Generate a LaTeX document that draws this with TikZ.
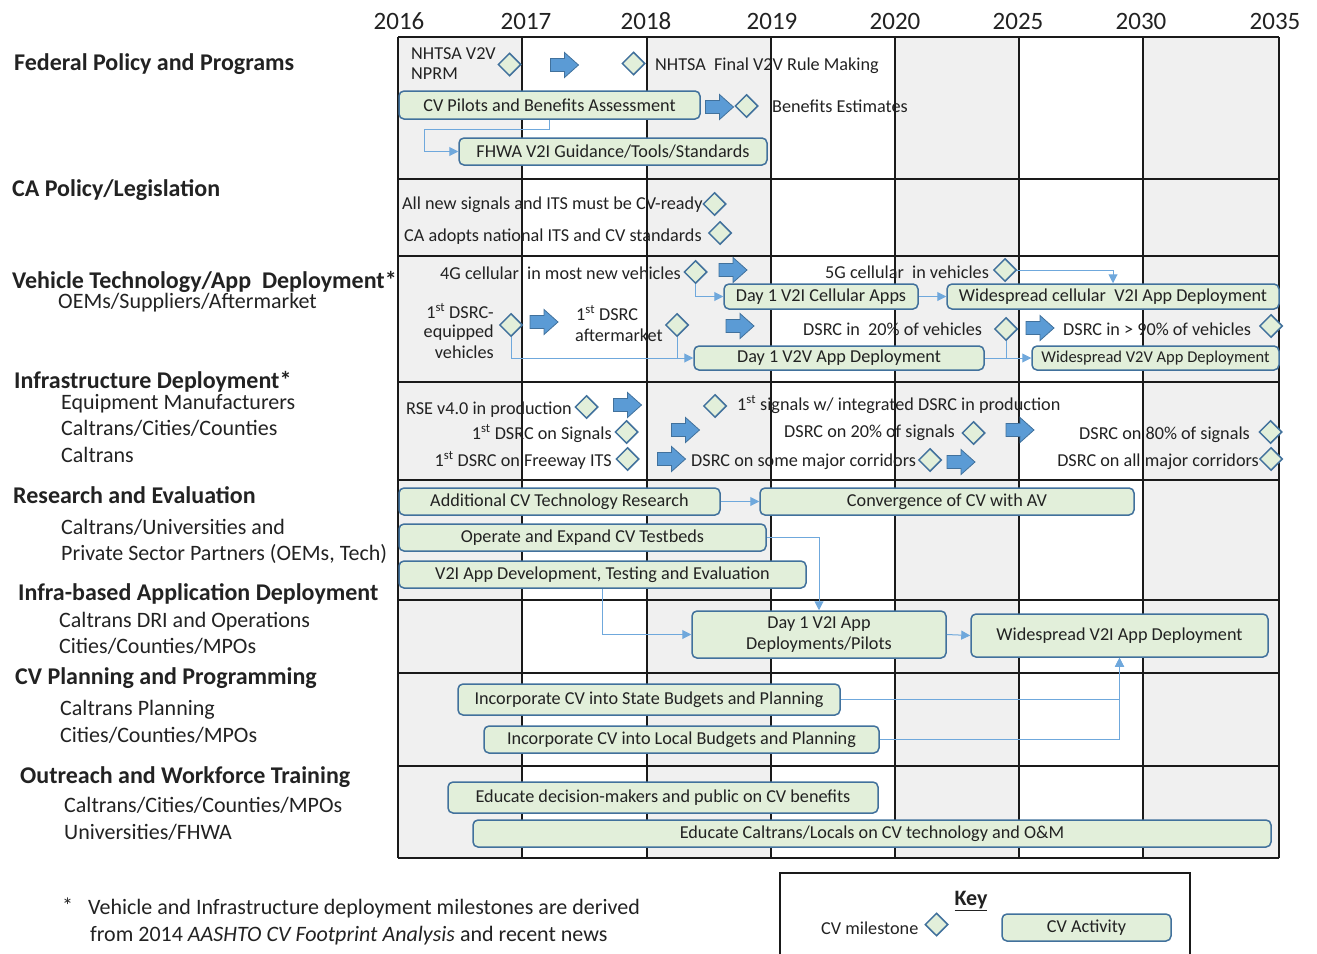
\documentclass[tikz,border=0pt]{standalone}
\usepackage{fontspec}
\setmainfont{Carlito}
\usetikzlibrary{shapes.geometric,arrows.meta,calc}
\definecolor{actfill}{HTML}{E2EFDA}
\definecolor{actdraw}{HTML}{41719C}
\definecolor{arrfill}{HTML}{5B9BD5}
\definecolor{connc}{HTML}{6FA8DC}
\definecolor{colshade}{HTML}{F0F0F0}
\definecolor{gridc}{HTML}{1A1A1A}
\definecolor{txt}{HTML}{222222}
\newcommand\actbox[6]{\node[act, minimum width={#4-#2}, minimum height={#5-#3}] (#1) at ({(#2+#4)/2},{(#3+#5)/2}) {#6};}
\begin{document}
\begin{tikzpicture}[x=1pt,y=-1pt,
 act/.style={draw=actdraw, fill=actfill, rounded corners=5pt, line width=1.5pt, inner sep=0pt, font=\fontsize{18.2}{21.5}\selectfont, text=txt, align=center},
 ms/.style={diamond, draw=actdraw, fill=actfill, line width=1.5pt, minimum width=23pt, minimum height=23pt, inner sep=0pt},
 lbl/.style={inner sep=0pt, font=\fontsize{18.2}{21.5}\selectfont, text=txt},
 head/.style={inner sep=0pt, font=\fontsize{24}{28}\selectfont\bfseries, text=txt, anchor=base west},
 sub/.style={inner sep=0pt, font=\fontsize{22}{26}\selectfont, text=txt, anchor=base west},
 yearlbl/.style={inner sep=0pt, font=\fontsize{25}{29}\selectfont, text=txt, anchor=base},
 foot/.style={inner sep=0pt, font=\fontsize{22}{26}\selectfont, text=txt, anchor=base west},
 conn/.style={draw=connc, line width=1pt, -{Triangle[length=9pt,width=9pt]}},
 joinline/.style={draw=connc, line width=1pt},
 gridline/.style={draw=gridc, line width=1.6pt},
 blockarrow/.pic={\draw[fill=arrfill, draw=actdraw, line width=0.8pt] (-14,-6.5) -- (0,-6.5) -- (0,-12.5) -- (14,0) -- (0,12.5) -- (0,6.5) -- (-14,6.5) -- cycle;}
]
\useasboundingbox (0,0) rectangle (1317,953);
% shading
\fill[colshade] (398,37) rectangle (522,858);
\fill[colshade] (647,37) rectangle (771,858);
\fill[colshade] (895,37) rectangle (1019,858);
\fill[colshade] (1143,37) rectangle (1279,858);
\foreach \x in {398,522,647,771,895,1019,1143,1279} \draw[gridline] (\x,37) -- (\x,858);
\foreach \y in {37,179,256,382,480,600,673,766,858} \draw[gridline] (398,\y) -- (1279,\y);
% years
\node[yearlbl] (y2016) at (399,29) {2016};
\node[yearlbl] (y2017) at (526,29) {2017};
\node[yearlbl] (y2018) at (646,29) {2018};
\node[yearlbl] (y2019) at (772,29) {2019};
\node[yearlbl] (y2020) at (895,29) {2020};
\node[yearlbl] (y2025) at (1018,29) {2025};
\node[yearlbl] (y2030) at (1141,29) {2030};
\node[yearlbl] (y2035) at (1275,29) {2035};
% left labels
\node[head] (h1) at (14,70) {Federal Policy and Programs};
\node[head] (h2) at (12,196) {CA Policy/Legislation};
\node[head] (h3) at (12,288) {Vehicle Technology/App\ \ Deployment*};
\node[sub] (s3a) at (58,308) {OEMs/Suppliers/Aftermarket};
\node[head] (h4) at (14,388) {Infrastructure Deployment*};
\node[sub] (s4a) at (61,409) {Equipment Manufacturers};
\node[sub] (s4b) at (61,435) {Caltrans/Cities/Counties};
\node[sub] (s4c) at (61,462) {Caltrans};
\node[head] (h5) at (13,503) {Research and Evaluation};
\node[sub] (s5a) at (61,534) {Caltrans/Universities and};
\node[sub] (s5b) at (61,560) {Private Sector Partners (OEMs, Tech)};
\node[head] (h6) at (18,600) {Infra-based Application Deployment};
\node[sub] (s6a) at (59,627) {Caltrans DRI and Operations};
\node[sub] (s6b) at (59,653) {Cities/Counties/MPOs};
\node[head] (h7) at (15,684) {CV Planning and Programming};
\node[sub] (s7a) at (60,715) {Caltrans Planning};
\node[sub] (s7b) at (60,742) {Cities/Counties/MPOs};
\node[head] (h8) at (20,783) {Outreach and Workforce Training};
\node[sub] (s8a) at (64,812) {Caltrans/Cities/Counties/MPOs};
\node[sub] (s8b) at (64,839) {Universities/FHWA};
% Federal row
\node[lbl, anchor=base west] (m1t) at (411,59) {NHTSA V2V};
\node[lbl, anchor=base west] (m1t2) at (411,79) {NPRM};
\node[ms] (m1) at (509.5,64.5) {};
\pic at (564.5,65) {blockarrow};
\node[ms] (m2) at (633.5,63.5) {};
\node[lbl, anchor=base west] (m2t) at (655,70) {NHTSA\ \ Final V2V Rule Making};
\actbox{cvp}{399}{91}{700}{119}{CV Pilots and Benefits Assessment}
\pic at (719.5,107) {blockarrow};
\node[ms] (m3) at (746.5,106) {};
\node[lbl, anchor=base west] (m3t) at (772,112) {Benefits Estimates};
\actbox{fhwa}{459}{138}{767}{165}{FHWA V2I Guidance/Tools/Standards}
\draw[conn] (cvp.south) |- (424,129) |- (fhwa.west);
% CA row
\node[lbl, anchor=base west] (c1t) at (402,209) {All new signals and ITS must be CV-ready};
\node[ms] (c1) at (714.5,204) {};
\node[lbl, anchor=base west] (c2t) at (404,241) {CA adopts national ITS and CV standards};
\node[ms] (c2) at (720,233) {};
% Vehicle row
\node[lbl, anchor=base east] (v1t) at (681,279) {4G cellular\ \ in most new vehicles};
\node[ms] (v1) at (695.5,272) {};
\pic at (733,270) {blockarrow};
\node[lbl, anchor=base west] (v2t) at (825,278) {5G cellular\ \ in vehicles};
\node[ms] (v2) at (1005,270) {};
\actbox{d1cell}{724}{284}{918}{309}{Day 1 V2I Cellular Apps}
\actbox{wcell}{947}{284}{1279}{309}{Widespread cellular\ \ V2I App Deployment}
\draw[conn] (v1.south) |- (d1cell.west);
\draw[conn] (d1cell.east) -- (wcell.west);
\draw[conn] (v2.east) -| (wcell.north);
\node[lbl, anchor=base east] (v3a) at (494,318) {1\textsuperscript{st} DSRC-};
\node[lbl, anchor=base east] (v3b) at (494,337) {equipped};
\node[lbl, anchor=base east] (v3c) at (494,358) {vehicles};
\node[ms] (v3) at (511,325) {};
\pic at (544,322) {blockarrow};
\node[lbl, anchor=base west] (v4a) at (576,320) {1\textsuperscript{st} DSRC};
\node[lbl, anchor=base west] (v4b) at (575,341) {aftermarket};
\node[ms] (v4) at (677,325) {};
\pic at (740,326) {blockarrow};
\node[lbl, anchor=base west] (v5t) at (803,335) {DSRC in\ \ 20\% of vehicles};
\node[ms] (v5) at (1006,329) {};
\pic at (1040,328) {blockarrow};
\node[lbl, anchor=base west] (v6t) at (1063,335) {DSRC in > 90\% of vehicles};
\node[ms] (v6) at (1271,326) {};
\actbox{d1v2v}{694}{346}{984}{370}{Day 1 V2V App Deployment}
\actbox{wv2v}{1032}{346}{1279}{370}{\fontsize{16.5}{20}\selectfont Widespread V2V App Deployment}
\draw[conn] (v3.south) |- (d1v2v.west);
\draw[joinline] (v4.south) -- (v4.south |- d1v2v.west);
\draw[conn] (d1v2v.east) -- (wv2v.west);
\draw[joinline] (v5.south) -- (v5.south |- wv2v.west);
% Infrastructure row
\node[lbl, anchor=base west] (i1t) at (406,414) {RSE v4.0 in production};
\node[ms] (i1) at (586.5,407) {};
\pic at (627.5,405) {blockarrow};
\node[ms] (i2) at (715,406) {};
\node[lbl, anchor=base west] (i2t) at (737,410) {1\textsuperscript{st} signals w/ integrated DSRC in production};
\node[lbl, anchor=base east] (i3t) at (612,439) {1\textsuperscript{st} DSRC on Signals};
\node[ms] (i3) at (626.5,432) {};
\pic at (685.5,430) {blockarrow};
\node[lbl, anchor=base west] (i4t) at (784,437) {DSRC on 20\% of signals};
\node[ms] (i4) at (973.5,433) {};
\pic at (1020,430) {blockarrow};
\node[lbl, anchor=base west] (i5t) at (1079,439) {DSRC on 80\% of signals};
\node[ms] (i5) at (1270.5,432) {};
\node[lbl, anchor=base east] (i6t) at (612,466) {1\textsuperscript{st} DSRC on Freeway ITS};
\node[ms] (i6) at (627.5,459) {};
\pic at (671.5,459) {blockarrow};
\node[lbl, anchor=base west] (i7t) at (691,466) {DSRC on some major corridors};
\node[ms] (i7) at (930,460) {};
\pic at (961,462) {blockarrow};
\node[lbl, anchor=base east] (i8t) at (1259,466) {DSRC on all major corridors};
\node[ms] (i8) at (1271,459) {};
% Research row
\actbox{addr}{399}{488}{720}{515}{Additional CV Technology Research}
\actbox{conv}{760}{488}{1134}{515}{Convergence of CV with AV}
\draw[conn] (addr.east) -- (conv.west);
\actbox{testb}{399}{524}{766}{551}{Operate and Expand CV Testbeds}
\actbox{v2idev}{399}{561}{806}{588}{V2I App Development, Testing and Evaluation}
% Infra-based app row
\actbox{d1v2i}{692}{611}{946}{658}{Day 1 V2I App\\Deployments/Pilots}
\actbox{wv2i}{971}{614}{1268}{657}{Widespread V2I App Deployment}
\draw[conn] (testb.east) -| (d1v2i.north);
\draw[conn] (v2idev.south) |- (d1v2i.west);
\draw[conn] (d1v2i.east) -- (wv2i.west);
% Planning row
\actbox{state}{458}{684}{840}{715}{Incorporate CV into State Budgets and Planning}
\actbox{local}{484}{726}{879}{753}{Incorporate CV into Local Budgets and Planning}
\draw[conn] (state.east) -| (wv2i.south);
\draw[conn] (local.east) -| (wv2i.south);
% Outreach row
\actbox{edu1}{448}{782}{878}{813}{Educate decision-makers and public on CV benefits}
\actbox{edu2}{473}{820}{1271}{847}{Educate Caltrans/Locals on CV technology and O\&M}
% footnote
\node[foot] (fn0) at (62,913) {*};
\node[foot] (fn1) at (88,914) {Vehicle and Infrastructure deployment milestones are derived};
\node[foot] (fn2) at (90,941) {from 2014 \textit{AASHTO CV Footprint Analysis} and recent news};
% key
\draw[gridline] (780,970) -- (780,873) -- (1190,873) -- (1190,970);
\node[inner sep=0pt, font=\fontsize{22}{26}\selectfont\bfseries, text=txt, anchor=base] (keyt) at (971,905) {\underline{Key}};
\node[lbl, anchor=base west] (keyms) at (821,934) {CV milestone};
\node[ms] (keyd) at (936.5,924.5) {};
\actbox{keyact}{1002}{914}{1171}{941}{CV Activity}
\end{tikzpicture}
\end{document}
